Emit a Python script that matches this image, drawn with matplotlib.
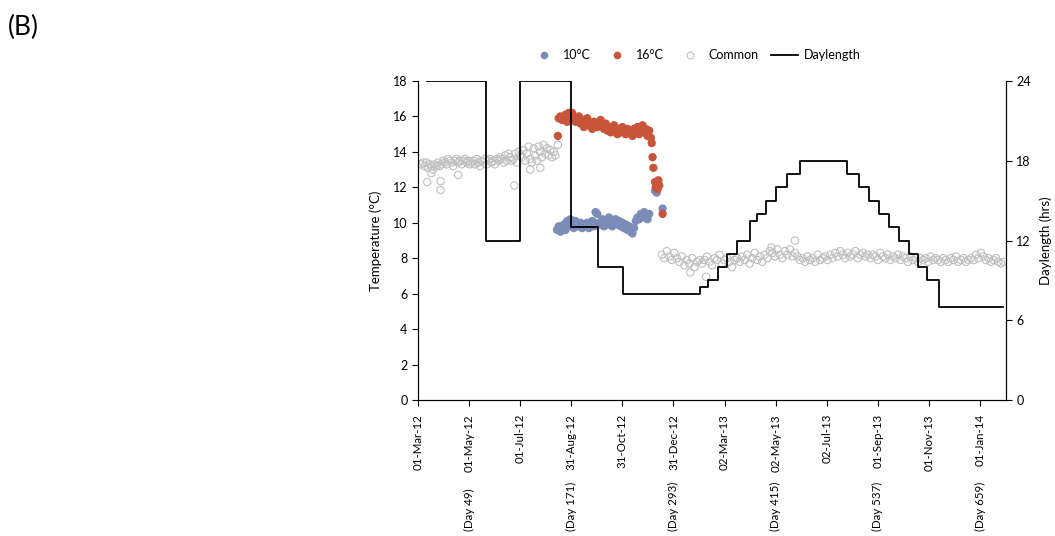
import numpy as np
import matplotlib
matplotlib.use("Agg")
import matplotlib.pyplot as plt
from matplotlib.lines import Line2D
from matplotlib.transforms import blended_transform_factory

plt.rcParams['font.family'] = ['Lato', 'DejaVu Sans']

# ---------------------------------------------------------------------------
# data (x = days since 01-Mar-12)
# ---------------------------------------------------------------------------
tick_days = [0, 61, 122, 183, 244, 305, 366, 427, 488, 549, 610, 671]
tick_labels = ['01-Mar-12', '01-May-12', '01-Jul-12', '31-Aug-12', '31-Oct-12',
               '31-Dec-12', '02-Mar-13', '02-May-13', '02-Jul-13', '01-Sep-13',
               '01-Nov-13', '01-Jan-14']
daynote_days = [61, 183, 305, 427, 549, 671]
daynote_labels = ['(Day 49)', '(Day 171)', '(Day 293)', '(Day 415)', '(Day 537)', '(Day 659)']

# common temperature, first period (every 2nd day from day 4)
common1_days = list(range(4, 165, 2))
common1_temp = [13.3, 13.4, 13.2, 13.4, 13.1, 13.3, 13.2, 13.0, 13.3, 13.2, 13.4, 13.2,
                13.3, 13.5, 13.4, 13.3, 13.6, 13.5, 13.4, 13.2, 13.5, 13.6, 13.4, 13.5,
                13.3, 13.5, 13.6, 13.4, 13.5, 13.3,
                13.4, 13.5, 13.3, 13.6, 13.4, 13.2, 13.5, 13.4, 13.6, 13.3, 13.5, 13.6,
                13.4, 13.5, 13.3, 13.6, 13.5, 13.7,
                13.6, 13.4, 13.8, 13.5, 13.9, 13.7, 13.5, 13.6, 13.9, 13.4, 14.0, 13.8,
                13.7, 14.1, 13.5, 13.9, 14.3, 13.6, 13.4, 14.2, 13.8, 13.5, 14.3, 14.0,
                13.7, 14.4, 13.9,
                14.2, 13.8, 14.1, 13.7, 14.0, 13.8]

# common temperature, second period (every 3rd day from day 291)
common2_days = list(range(291, 700, 3))
common2_temp = [8.2, 8.0, 8.4, 8.1, 7.9, 8.3, 8.0,
                7.8, 8.1, 7.6, 7.9, 7.7, 8.0, 7.5, 7.8, 7.9, 7.7,
                7.9, 8.1, 7.8, 7.6, 8.0, 7.9, 8.2, 7.7, 7.9, 8.0, 7.8, 7.5, 7.9,
                8.0, 7.8, 8.1, 7.9, 8.2, 7.7, 8.0, 8.3, 7.9, 8.1, 7.8, 8.2, 8.0, 8.4,
                8.3, 8.1, 8.5, 8.2, 8.0, 8.4, 8.2, 8.5, 8.1, 8.3,
                8.1, 7.9, 8.0, 7.8, 8.1, 7.9, 8.0, 7.8, 8.2, 7.9, 8.0, 8.1, 7.9,
                8.2, 8.0, 8.3, 8.1, 8.4, 8.2, 8.0, 8.3, 8.1, 8.2, 8.4, 8.0, 8.2, 8.3,
                8.1, 8.2, 8.0,
                8.2, 8.1, 7.9, 8.3, 8.1, 8.0, 8.2, 7.9, 8.1, 8.0, 8.2, 7.9, 8.1, 8.0,
                7.8, 8.1, 7.9, 8.0, 7.8, 8.0,
                7.9, 8.0, 7.8, 8.1, 7.9, 8.0, 7.9, 7.8, 8.0, 7.9, 7.8, 8.0, 7.9, 8.1,
                7.8, 7.9, 8.0, 7.8, 7.9, 8.0,
                7.9, 8.2, 8.0, 8.3, 8.1, 7.9, 8.0, 7.8, 7.9, 8.0, 7.8, 7.7, 7.8]

# scattered common readings away from the main band
common_out_days = [11, 16, 27, 27, 48, 115, 134, 146, 167, 325, 344, 422, 450]
common_out_temp = [12.3, 12.8, 12.35, 11.85, 12.7, 12.1, 13.0, 13.1, 14.4, 7.2, 6.95, 8.6, 9.0]

# 16 degC treatment
t16_days = list(range(168, 277, 2)) + [167, 278, 279, 280, 281, 283, 284, 285, 286, 287, 288, 292]
t16_temp = [15.9, 16.0, 15.8, 15.9, 16.1, 15.7, 16.2, 16.0, 16.2, 15.9, 15.7, 15.8,
            16.0, 15.6, 15.8, 15.4, 15.7, 15.9, 15.5, 15.6, 15.3, 15.7, 15.5, 15.4, 15.6,
            15.8, 15.5, 15.3, 15.6, 15.2, 15.4, 15.1, 15.3, 15.5, 15.2, 15.0, 15.3, 15.1,
            15.4, 15.2,
            15.0, 15.3, 15.1, 15.2, 14.9, 15.3, 15.1, 15.4, 15.0, 15.2, 15.5, 15.1, 15.3,
            14.9, 15.2,
            14.9, 14.8, 14.5, 13.7, 13.1, 12.3, 12.0, 12.2, 11.9, 12.4, 12.1, 10.5]

# 10 degC treatment
t10_days = list(range(166, 277, 2)) + [283, 284, 285, 287, 292]
t10_temp = [9.6, 9.8, 9.5, 9.7, 9.9, 9.6, 10.1, 9.8, 10.2, 10.0, 9.7, 10.1, 9.9,
            9.8, 10.0, 9.7, 9.9, 9.8, 10.0, 9.7, 9.9, 10.1, 9.8, 10.6, 10.5, 10.0,
            9.9, 10.2, 9.8, 10.0, 9.9, 10.3, 10.1, 9.8, 10.0, 10.2, 9.9, 10.1, 9.8, 10.0,
            9.7, 9.9, 9.6, 9.8, 9.5, 9.4, 9.7, 10.1, 10.3, 10.2, 10.5, 10.3, 10.6, 10.4,
            10.2, 10.5,
            11.8, 12.0, 11.7, 12.2, 10.8]

# daylength (hrs), step changes
dl_days = [11, 81, 122, 183, 215, 245, 337, 346, 358, 369, 381, 396, 405, 415, 427,
           440, 456, 512, 526, 538, 550, 562, 574, 586, 597, 608, 622, 698]
dl_hrs = [24, 12, 24, 13, 10, 8, 8.5, 9, 10, 11, 12, 13.5, 14, 15, 16,
          17, 18, 17, 16, 15, 14, 13, 12, 11, 10, 9, 7, 7]

blue = '#7b8cb8'
red = '#c8553a'
grey = '#bfbfbf'

fig = plt.figure(figsize=(10.55, 5.36), dpi=100)
ax = fig.add_axes([0.3962, 0.2537, 0.5574, 0.5952])
ax2 = ax.twinx()

common_days = common1_days + common2_days + common_out_days
common_temp = common1_temp + common2_temp + common_out_temp
ax.scatter(common_days, common_temp, s=28, facecolors='none', edgecolors=grey,
           linewidths=0.8, zorder=2)
ax.scatter(t10_days, t10_temp, s=36, color=blue, edgecolors='none', zorder=3)
ax.scatter(t16_days, t16_temp, s=36, color=red, edgecolors='none', zorder=3)

ax2.step(dl_days, dl_hrs, where='post', color='black', lw=1.3)

ax.set_xlim(0, 702)
ax.set_ylim(0, 18)
ax2.set_ylim(0, 24)
ax.set_yticks(range(0, 19, 2))
ax2.set_yticks([0, 6, 12, 18, 24])
ax.set_xticks(tick_days)
ax.set_xticklabels(tick_labels, rotation=90)

for a in (ax, ax2):
    a.spines['top'].set_visible(False)
    for s in a.spines.values():
        s.set_color('black')
        s.set_linewidth(0.8)
    a.tick_params(direction='out', length=4, width=0.8, labelsize=9, colors='black')
ax.tick_params(axis='x', labelsize=8.3, pad=6)

ax.set_ylabel('Temperature (°C)', fontsize=9.5, labelpad=8)
ax2.set_ylabel('Daylength (hrs)', fontsize=9.5, labelpad=6)

trans = blended_transform_factory(ax.transData, fig.transFigure)
for d, lab in zip(daynote_days, daynote_labels):
    fig.text(d, 0.01, lab, transform=trans, rotation=90, ha='center', va='bottom',
             fontsize=8.3)

fig.text(0.007, 0.948, '(B)', fontsize=19, ha='left', va='center')

handles = [
    Line2D([], [], ls='none', marker='o', ms=5.5, mfc=blue, mec='none'),
    Line2D([], [], ls='none', marker='o', ms=5.5, mfc=red, mec='none'),
    Line2D([], [], ls='none', marker='o', ms=5, mfc='none', mec=grey, mew=0.8),
    Line2D([], [], color='black', lw=1.3),
]
fig.legend(handles, ['10°C', '16°C', 'Common', 'Daylength'], loc='center',
           bbox_to_anchor=(0.659, 0.897), ncol=4, frameon=False, fontsize=9,
           handlelength=2.2, columnspacing=1.0, handletextpad=0.4)

fig.savefig('out.png', dpi=100)
